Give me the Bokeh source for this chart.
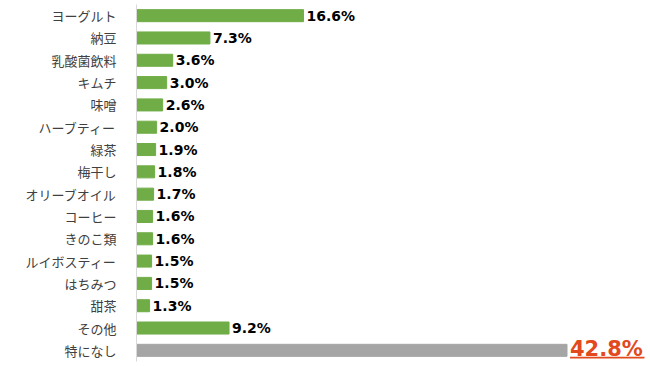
from bokeh.plotting import figure
from bokeh.models import FactorRange, Range1d, ColumnDataSource
from bokeh.core.properties import value
from bokeh.embed import file_html
from bokeh.resources import INLINE

categories = ["ヨーグルト", "納豆", "乳酸菌飲料", "キムチ", "味噌", "ハーブティー", "緑茶", "梅干し",
              "オリーブオイル", "コーヒー", "きのこ類", "ルイボスティー", "はちみつ", "甜茶", "その他", "特になし"]
values = [16.6, 7.3, 3.6, 3.0, 2.6, 2.0, 1.9, 1.8, 1.7, 1.6, 1.6, 1.5, 1.5, 1.3, 9.2, 42.8]
highlight = "特になし"

GREEN = "#70AD47"
GRAY = "#A5A5A5"
RED = "#E2491D"

colors = [GRAY if c == highlight else GREEN for c in categories]
labels = [f"{v:.1f}%" for v in values]

main_idx = [i for i, c in enumerate(categories) if c != highlight]
src = ColumnDataSource(dict(cat=categories, val=values, color=colors))
lab_src = ColumnDataSource(dict(cat=[categories[i] for i in main_idx],
                                val=[values[i] for i in main_idx],
                                lab=[labels[i] for i in main_idx]))
hi_i = categories.index(highlight)

p = figure(width=650, height=366, output_backend="svg", toolbar_location=None,
           y_range=FactorRange(factors=categories[::-1], range_padding=0),
           x_range=Range1d(0, 51.1),
           min_border_left=136, min_border_right=0, min_border_top=4, min_border_bottom=5)
p.outline_line_color = None
p.xgrid.visible = False
p.ygrid.visible = False
p.xaxis.visible = False
p.background_fill_color = "white"
p.border_fill_color = "white"

p.hbar(y="cat", right="val", left=0, height=0.54, color="color", source=src)

p.text(x="val", y="cat", text="lab", source=lab_src, x_offset=3,
       text_font=value("DejaVu Sans"), text_font_style="bold", text_font_size="14px",
       text_color="#000000", text_baseline="middle", text_align="left")

p.text(x=[values[hi_i]], y=[(highlight, 0.08)], text=[labels[hi_i]], x_offset=3,
       text_font=value("DejaVu Sans"), text_font_style="bold", text_font_size="21px",
       text_color=RED, text_baseline="middle", text_align="left")
# underline of the highlighted label
p.segment(x0=[values[hi_i] + 0.3], x1=[values[hi_i] + 7.7],
          y0=[(highlight, -0.33)], y1=[(highlight, -0.33)], line_color=RED, line_width=1.8)

ax = p.yaxis[0]
ax.axis_line_color = "#D9D9D9"
ax.axis_line_width = 1
ax.major_tick_line_color = None
ax.minor_tick_line_color = None
ax.major_label_standoff = 14
ax.major_label_text_font = "Noto Sans CJK JP"
ax.major_label_text_font_size = "13px"
ax.major_label_text_color = "#404040"

open("out.html", "w").write(file_html(p, INLINE))
